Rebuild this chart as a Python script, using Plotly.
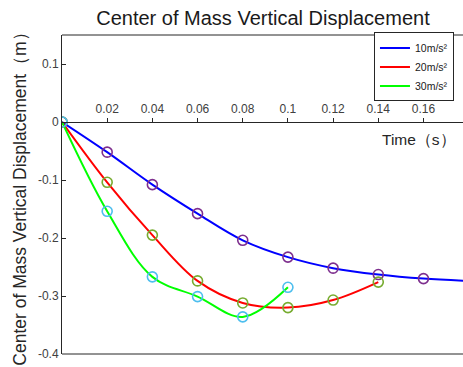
import plotly.graph_objects as go

t_marks = [0, 0.02, 0.04, 0.06, 0.08, 0.10, 0.12, 0.14, 0.16]

# 10 m/s^2 series (line continues past last marker to the plot edge)
t_10 = [0, 0.02, 0.04, 0.06, 0.08, 0.10, 0.12, 0.14, 0.16, 0.18]
y_10 = [0, -0.052, -0.108, -0.158, -0.204, -0.233, -0.252, -0.263, -0.270, -0.274]

t_20 = [0, 0.02, 0.04, 0.06, 0.08, 0.10, 0.12, 0.14]
y_20 = [0, -0.104, -0.195, -0.274, -0.312, -0.320, -0.307, -0.276]

t_30 = [0, 0.02, 0.04, 0.06, 0.08, 0.10]
y_30 = [0, -0.154, -0.267, -0.301, -0.336, -0.285]

names = ["10m/s²", "20m/s²", "30m/s²"]
line_colors = ["#0000FF", "#FF0000", "#00FF00"]
marker_colors = ["#7E2F8E", "#77AC30", "#4DBEEE"]

x_ticks = [0.02, 0.04, 0.06, 0.08, 0.10, 0.12, 0.14, 0.16]
x_tick_text = ["0.02", "0.04", "0.06", "0.08", "0.1", "0.12", "0.14", "0.16"]
y_ticks = [-0.4, -0.3, -0.2, -0.1, 0, 0.1]
y_tick_text = ["-0.4", "-0.3", "-0.2", "-0.1", "0", "0.1"]

series = [(t_10, y_10), (t_20, y_20), (t_30, y_30)]
n_marks = [9, 8, 6]

fig = go.Figure()
for (tx, ty), nm, lc in zip(series, names, line_colors):
    fig.add_trace(go.Scatter(x=tx, y=ty, mode="lines", name=nm,
                             line=dict(color=lc, width=2, shape="spline", smoothing=1.0)))
for (tx, ty), n, mc in zip(series, n_marks, marker_colors):
    fig.add_trace(go.Scatter(x=tx[:n], y=ty[:n], mode="markers", showlegend=False,
                             marker=dict(symbol="circle-open", size=10, color=mc,
                                         line=dict(width=1.6, color=mc))))

y_min, y_max = -0.4, 0.15
zero_pos = (0 - y_min) / (y_max - y_min)

fig.update_layout(
    width=463, height=367,
    margin=dict(l=62, r=0, t=35, b=13),
    paper_bgcolor="white", plot_bgcolor="white",
    font=dict(family="Liberation Sans, Arial, sans-serif", color="#262626"),
    title=dict(text="Center of Mass Vertical Displacement", x=0.568, xanchor="center",
               y=0.952, yanchor="middle", font=dict(size=20, color="#1a1a1a")),
    xaxis=dict(range=[0, 0.1775], tickvals=x_ticks, ticktext=x_tick_text,
               side="top", anchor="free", position=zero_pos,
               showline=True, linecolor="#262626", linewidth=1,
               ticks="outside", ticklen=4, tickcolor="#262626",
               showgrid=False, zeroline=False, tickfont=dict(size=12, color="#404040")),
    yaxis=dict(range=[y_min, y_max], tickvals=y_ticks, ticktext=y_tick_text,
               showline=True, linecolor="#262626", linewidth=1,
               ticks="inside", ticklen=4, tickcolor="#262626",
               showgrid=False, zeroline=False, tickfont=dict(size=12, color="#404040"),
               title=dict(text="Center of Mass Vertical Displacement（m）",
                          font=dict(size=17.5, color="#262626"), standoff=6)),
    legend=dict(x=0.778, y=1.008, xanchor="left", yanchor="top",
                bgcolor="white", bordercolor="#262626", borderwidth=1,
                font=dict(size=10.5, color="#1a1a1a"), tracegroupgap=0,
                itemwidth=30),
    shapes=[
        dict(type="line", xref="x domain", yref="y domain", x0=0, x1=1, y0=1, y1=1,
             line=dict(color="#262626", width=1)),
        dict(type="line", xref="x domain", yref="y domain", x0=0, x1=1, y0=0, y1=0,
             line=dict(color="#262626", width=1)),
    ],
    annotations=[
        dict(text="Time（s）", xref="x domain", yref="y domain", x=0.89, y=0.672,
             xanchor="center", yanchor="middle", showarrow=False,
             font=dict(size=15.5, color="#262626")),
    ],
)

fig.write_html("out.html")
